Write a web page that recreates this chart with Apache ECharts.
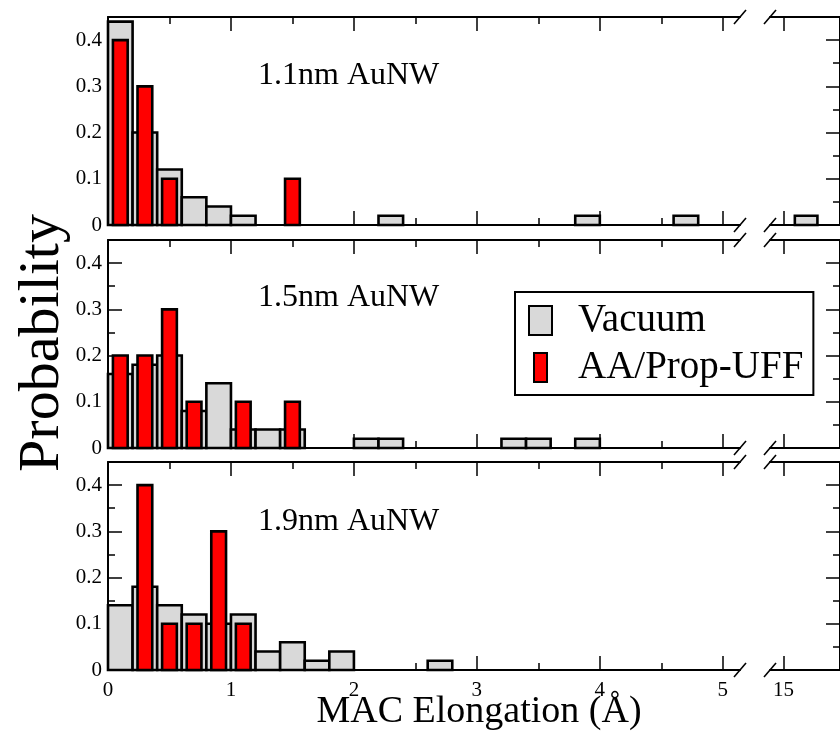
<!DOCTYPE html>
<html>
<head>
<meta charset="utf-8">
<script src="https://cdn.jsdelivr.net/npm/echarts@6/dist/echarts.min.js"></script>
<style>html,body{margin:0;padding:0;background:#fff}#c{width:840px;height:736px}</style>
</head>
<body>
<div id="c"></div>
<script>
// ---------- data ----------
const panelLabels = ['1.1nm AuNW', '1.5nm AuNW', '1.9nm AuNW'];
const seriesNames = ['Vacuum', 'AA/Prop-UFF'];
const xTickLabels = [0, 1, 2, 3, 4, 5];
const xMinorTicks = [0.5, 1.5, 2.5, 3.5, 4.5];
const xTickLabelsRight = [15];
const xMinorTicksRight = [15.5];
const yTickLabels = [0, 0.1, 0.2, 0.3, 0.4];
const yMinorTicks = [0.05, 0.15, 0.25, 0.35];
const yAxisTitle = 'Probability';
const xAxisTitle = 'MAC Elongation (Å)';

// Vacuum histograms: [bin start (Å), probability], bin width 0.2 Å
const vacuum11 = [[0.0,0.44],[0.2,0.20],[0.4,0.12],[0.6,0.06],[0.8,0.04],[1.0,0.02],[2.2,0.02],[3.8,0.02],[4.6,0.02],[15.1,0.02]];
const vacuum15 = [[0.0,0.16],[0.2,0.18],[0.4,0.20],[0.6,0.08],[0.8,0.14],[1.0,0.04],[1.2,0.04],[1.4,0.04],[2.0,0.02],[2.2,0.02],[3.2,0.02],[3.4,0.02],[3.8,0.02]];
const vacuum19 = [[0.0,0.14],[0.2,0.18],[0.4,0.14],[0.6,0.12],[0.8,0.10],[1.0,0.12],[1.2,0.04],[1.4,0.06],[1.6,0.02],[1.8,0.04],[2.6,0.02]];
// AA/Prop-UFF histograms: [bin centre (Å), probability]
const aa11 = [[0.1,0.40],[0.3,0.30],[0.5,0.10],[1.5,0.10]];
const aa15 = [[0.1,0.20],[0.3,0.20],[0.5,0.30],[0.7,0.10],[1.1,0.10],[1.5,0.10]];
const aa19 = [[0.3,0.40],[0.5,0.10],[0.7,0.10],[0.9,0.30],[1.1,0.10]];

const vacuumSets = [vacuum11, vacuum15, vacuum19];
const aaSets = [aa11, aa15, aa19];

// ---------- layout / style ----------
const FONT = 'Liberation Serif';
const GRAY = '#d9d9d9', RED = '#ff0000';
const panelTops = [17, 240, 462], panelH = 208;
const leftX = 108, leftW = 632, rightX = 770, rightW = 76;
const leftExt = [0, 5.14], rightExt = [14.88, 15.5];
const yExt = [0, 0.45];
const VBIN = 0.2, RHALF = 0.06;

const grids = [], xAxes = [], yAxes = [], series = [];

function xAxisDef(g, pos, ext, vals, len, line, labels) {
  return {
    type: 'value', gridIndex: g, position: pos, min: ext[0], max: ext[1],
    axisLine: { show: line, onZero: false, lineStyle: { color: '#000', width: 2 } },
    axisTick: { show: true, inside: true, length: len, customValues: vals, lineStyle: { color: '#000', width: 1.5 } },
    axisLabel: { show: labels, customValues: vals, color: '#000', fontFamily: FONT, fontSize: 21, margin: 10 },
    splitLine: { show: false }
  };
}
function yAxisDef(g, pos, vals, len, line, labels) {
  return {
    type: 'value', gridIndex: g, position: pos, min: yExt[0], max: yExt[1],
    axisLine: { show: line, onZero: false, lineStyle: { color: '#000', width: 2 } },
    axisTick: { show: true, inside: true, length: len, customValues: vals, lineStyle: { color: '#000', width: 1.5 } },
    axisLabel: { show: labels, customValues: vals, color: '#000', fontFamily: FONT, fontSize: 21, margin: 6 },
    splitLine: { show: false }
  };
}
function rectRender(color) {
  return function (params, api) {
    const p0 = api.coord([api.value(0), api.value(2)]);
    const p1 = api.coord([api.value(1), 0]);
    return {
      type: 'rect',
      shape: { x: p0[0], y: p0[1], width: p1[0] - p0[0], height: p1[1] - p0[1] },
      style: { fill: color, stroke: '#000', lineWidth: 2.6 }
    };
  };
}

for (let p = 0; p < 3; p++) {
  const bottomPanel = p === 2;
  ['L', 'R'].forEach((side, s) => {
    const g = p * 2 + s;
    grids.push({ left: side === 'L' ? leftX : rightX, width: side === 'L' ? leftW : rightW, top: panelTops[p], height: panelH });
    const ext = side === 'L' ? leftExt : rightExt;
    const maj = side === 'L' ? xTickLabels : xTickLabelsRight;
    const min = side === 'L' ? xMinorTicks : xMinorTicksRight;
    xAxes.push(xAxisDef(g, 'bottom', ext, maj, 14, true, bottomPanel));
    xAxes.push(xAxisDef(g, 'bottom', ext, min, 7, false, false));
    xAxes.push(xAxisDef(g, 'top', ext, maj, 14, true, false));
    xAxes.push(xAxisDef(g, 'top', ext, min, 7, false, false));
    const ypos = side === 'L' ? 'left' : 'right';
    yAxes.push(yAxisDef(g, ypos, yTickLabels, 14, true, side === 'L'));
    yAxes.push(yAxisDef(g, ypos, yMinorTicks, 7, false, false));

    const vac = vacuumSets[p].filter(d => side === 'L' ? d[0] < 10 : d[0] > 10).map(d => [d[0], d[0] + VBIN, d[1]]);
    if (vac.length) series.push({
      type: 'custom', name: seriesNames[0], xAxisIndex: g * 4, yAxisIndex: g * 2, z: 2,
      renderItem: rectRender(GRAY), encode: { x: [0, 1], y: 2 }, data: vac, itemStyle: { color: GRAY }
    });
    const aa = aaSets[p].filter(d => side === 'L' ? d[0] < 10 : d[0] > 10).map(d => [d[0] - RHALF, d[0] + RHALF, d[1]]);
    if (aa.length) series.push({
      type: 'custom', name: seriesNames[1], xAxisIndex: g * 4, yAxisIndex: g * 2, z: 3,
      renderItem: rectRender(RED), encode: { x: [0, 1], y: 2 }, data: aa, itemStyle: { color: RED }
    });
  });
}

// graphic: panel labels, axis titles, break marks
const graphics = [];
const labelY = [76, 298, 522];
panelLabels.forEach((t, i) => graphics.push({
  type: 'text', left: 258, top: labelY[i] - 16, z: 10,
  style: { text: t, font: '32px "' + FONT + '"', fill: '#000' }
}));
graphics.push({ type: 'text', x: 43, y: 343, rotation: Math.PI / 2, z: 10,
  style: { text: yAxisTitle, font: '58px "' + FONT + '"', fill: '#000', align: 'center', verticalAlign: 'middle' } });
graphics.push({ type: 'text', x: 479, y: 712, z: 10,
  style: { text: xAxisTitle, font: '38px "' + FONT + '"', fill: '#000', align: 'center', verticalAlign: 'middle' } });
panelTops.forEach(t => {
  [t, t + panelH].forEach(yl => {
    [740, 770].forEach(cx => graphics.push({
      type: 'line', z: 10, shape: { x1: cx - 6, y1: yl + 7, x2: cx + 6, y2: yl - 7 },
      style: { stroke: '#000', lineWidth: 1.6 }
    }));
  });
});

const option = {
  animation: false,
  backgroundColor: '#fff',
  textStyle: { fontFamily: FONT },
  grid: grids,
  xAxis: xAxes,
  yAxis: yAxes,
  legend: {
    orient: 'vertical', left: 515, top: 292, z: 20,
    backgroundColor: '#fff', borderColor: '#000', borderWidth: 2,
    padding: [9, 10, 8, 13], itemGap: 8, itemWidth: 23, itemHeight: 29,
    textStyle: { fontFamily: FONT, fontSize: 39, color: '#000', padding: [0, 0, 0, 21] },
    data: [
      { name: seriesNames[0], icon: 'rect', itemStyle: { color: GRAY, borderColor: '#000', borderWidth: 2 } },
      { name: seriesNames[1], icon: 'path://M0,0M23,29M5,0L18,0L18,29L5,29Z', itemStyle: { color: RED, borderColor: '#000', borderWidth: 2 } }
    ]
  },
  graphic: graphics,
  series: series
};
const chart = echarts.init(document.getElementById('c'), null, { renderer: 'canvas' });
chart.setOption(option);
</script>
</body>
</html>
